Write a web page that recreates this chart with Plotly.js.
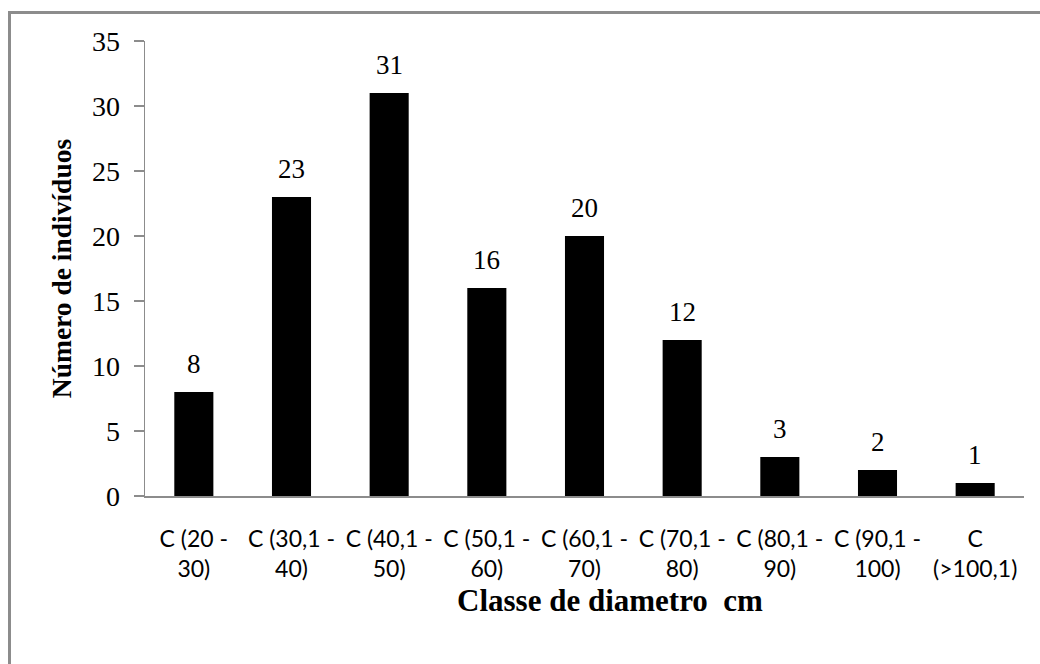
<!DOCTYPE html>
<html>
<head>
<meta charset="utf-8">
<script src="https://cdn.plot.ly/plotly-3.0.1.min.js"></script>
<style>
html,body{margin:0;padding:0;background:#fff;}
#chart{width:1040px;height:664px;}
</style>
</head>
<body>
<div id="chart"></div>
<script>
const categories = ["C (20 -<br>30)", "C (30,1 -<br>40)", "C (40,1 -<br>50)", "C (50,1 -<br>60)", "C (60,1 -<br>70)", "C (70,1 -<br>80)", "C (80,1 -<br>90)", "C (90,1 -<br>100)", "C<br>(>100,1)"];
const values = [8, 23, 31, 16, 20, 12, 3, 2, 1];
const yTicks = [0, 5, 10, 15, 20, 25, 30, 35];
const xTitle = 'Classe de diametro  cm';
const yTitle = 'Número de indivíduos';

const serif = "'Liberation Serif', 'Times New Roman', serif";
const sans = "Lato, Carlito, Calibri, 'Liberation Sans', sans-serif";

const trace = {
  type: 'bar',
  x: categories,
  y: values,
  marker: {color: '#000000', line: {width: 0}},
  hoverinfo: 'none'
};

const W = 1040, H = 664, ml = 145, mr = 16, mt = 41, mb = 168;
const pw = W - ml - mr, ph = H - mt - mb;
const px = v => (v - ml) / pw;
const py = v => (H - mb - v) / ph;

const annotations = categories.map((c, i) => ({
  x: c, y: values[i], xref: 'x', yref: 'y',
  text: String(values[i]),
  showarrow: false,
  yanchor: 'bottom',
  yshift: 11,
  font: {family: serif, size: 27, color: '#000'}
}));
annotations.push({
  x: px(610), y: py(600), xref: 'paper', yref: 'paper',
  xanchor: 'center', yanchor: 'middle',
  text: xTitle, showarrow: false,
  font: {family: serif, size: 31, color: '#000', weight: 'bold'}
});

const layout = {
  width: W, height: H,
  margin: {l: ml, r: mr, t: mt, b: mb, pad: 0},
  paper_bgcolor: '#fff', plot_bgcolor: '#fff',
  showlegend: false,
  bargap: 0.6,
  xaxis: {
    type: 'category',
    showline: true, linecolor: '#8c8c8c', linewidth: 1.5,
    ticks: '', showgrid: false, zeroline: false,
    tickfont: {family: sans, size: 23, color: '#000'},
    ticklabelstandoff: 22
  },
  yaxis: {
    range: [0, 35], tickvals: yTicks, ticktext: yTicks.map(String),
    showline: true, linecolor: '#8c8c8c', linewidth: 1.5,
    ticks: 'outside', ticklen: 10, tickcolor: '#8c8c8c', tickwidth: 1.5,
    showgrid: false, zeroline: false,
    tickfont: {family: serif, size: 28, color: '#000'},
    ticklabelstandoff: 8,
    title: {text: yTitle, font: {family: serif, size: 27.5, color: '#000', weight: 'bold'}, standoff: 12}
  },
  annotations: annotations,
  shapes: [{
    type: 'rect', xref: 'paper', yref: 'paper',
    x0: px(9.5), x1: px(1050), y0: py(680), y1: py(12.5),
    line: {color: '#8c8c8c', width: 3}, fillcolor: 'rgba(0,0,0,0)', layer: 'below'
  }]
};

Plotly.newPlot('chart', [trace], layout, {displayModeBar: false, staticPlot: true});
</script>
</body>
</html>
